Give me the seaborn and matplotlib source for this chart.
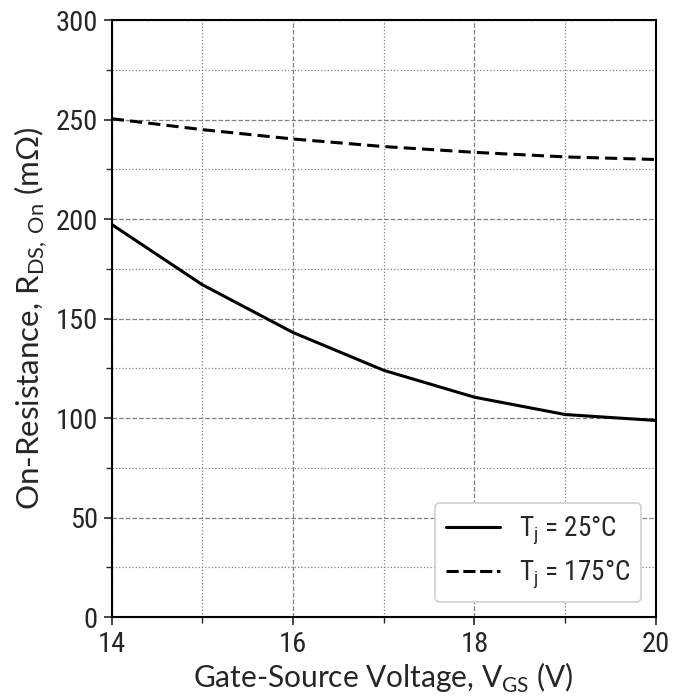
import matplotlib
matplotlib.use("Agg")
import matplotlib.pyplot as plt
import seaborn as sns
import pandas as pd
from matplotlib.ticker import MultipleLocator
from matplotlib import font_manager

vgs = [14, 15, 16, 17, 18, 19, 20]
r_25 = [197.3, 167, 143, 124, 110.5, 101.8, 98.8]
r_175 = [250.5, 245, 240.3, 236.5, 233.6, 231.3, 230]
labels = ["T$_\\mathregular{j}$ = 25°C", "T$_\\mathregular{j}$ = 175°C"]

sns.set_style("ticks")
names = {f.name for f in font_manager.fontManager.ttflist}
narrow = next((n for n in ["Roboto Condensed", "Archivo Narrow", "Asap Condensed",
                           "Barlow Condensed", "Roboto"] if n in names), "DejaVu Sans")
plt.rcParams["font.family"] = [narrow, "DejaVu Sans"]

df = pd.DataFrame({
    "VGS": vgs * 2,
    "R": r_25 + r_175,
    "T": [labels[0]] * len(vgs) + [labels[1]] * len(vgs),
})

fig = plt.figure(figsize=(6.86, 6.98), dpi=100)
ax = fig.add_axes([0.163, 0.116, 0.793, 0.855])
sns.lineplot(data=df, x="VGS", y="R", hue="T", style="T",
             palette=["black", "black"], linewidth=2.2, ax=ax)
for line, ls in zip(ax.get_lines()[:2], ["-", (0, (4, 2))]):
    line.set_linestyle(ls)

ax.set_xlim(14, 20)
ax.set_ylim(0, 300)
ax.xaxis.set_major_locator(MultipleLocator(2))
ax.xaxis.set_minor_locator(MultipleLocator(1))
ax.yaxis.set_major_locator(MultipleLocator(50))
ax.yaxis.set_minor_locator(MultipleLocator(25))
ax.grid(which="major", linestyle="--", color="grey", linewidth=0.9)
ax.grid(which="minor", linestyle=":", color="grey", linewidth=0.9)
ax.tick_params(which="major", length=6, width=1.2, labelsize=20.5, direction="out", pad=4)
ax.tick_params(which="minor", length=4, width=1.0, direction="out")
for s in ax.spines.values():
    s.set_linewidth(1.5)
    s.set_color("black")

ax.set_xlabel("Gate-Source Voltage, V$_{\\mathregular{GS}}$ (V)",
              fontdict={"family": ["Lato", "DejaVu Sans"], "size": 21.5}, labelpad=2)
ax.set_ylabel("On-Resistance, R$_{\\mathregular{DS,\\,On}}$ (m\u03a9)",
              fontdict={"family": ["Lato", "DejaVu Sans"], "size": 22.5}, labelpad=5)

handles, labs = ax.get_legend_handles_labels()
leg = ax.legend(handles=handles, labels=labs, loc="lower right", fontsize=19.5,
                frameon=True, fancybox=True, edgecolor="#d0d0d0", framealpha=1,
                handlelength=2.0, borderpad=0.4, labelspacing=0.4, handletextpad=0.7,
                borderaxespad=0.55)
leg.get_frame().set_linewidth(1.2)

fig.savefig("out.png", dpi=100)
